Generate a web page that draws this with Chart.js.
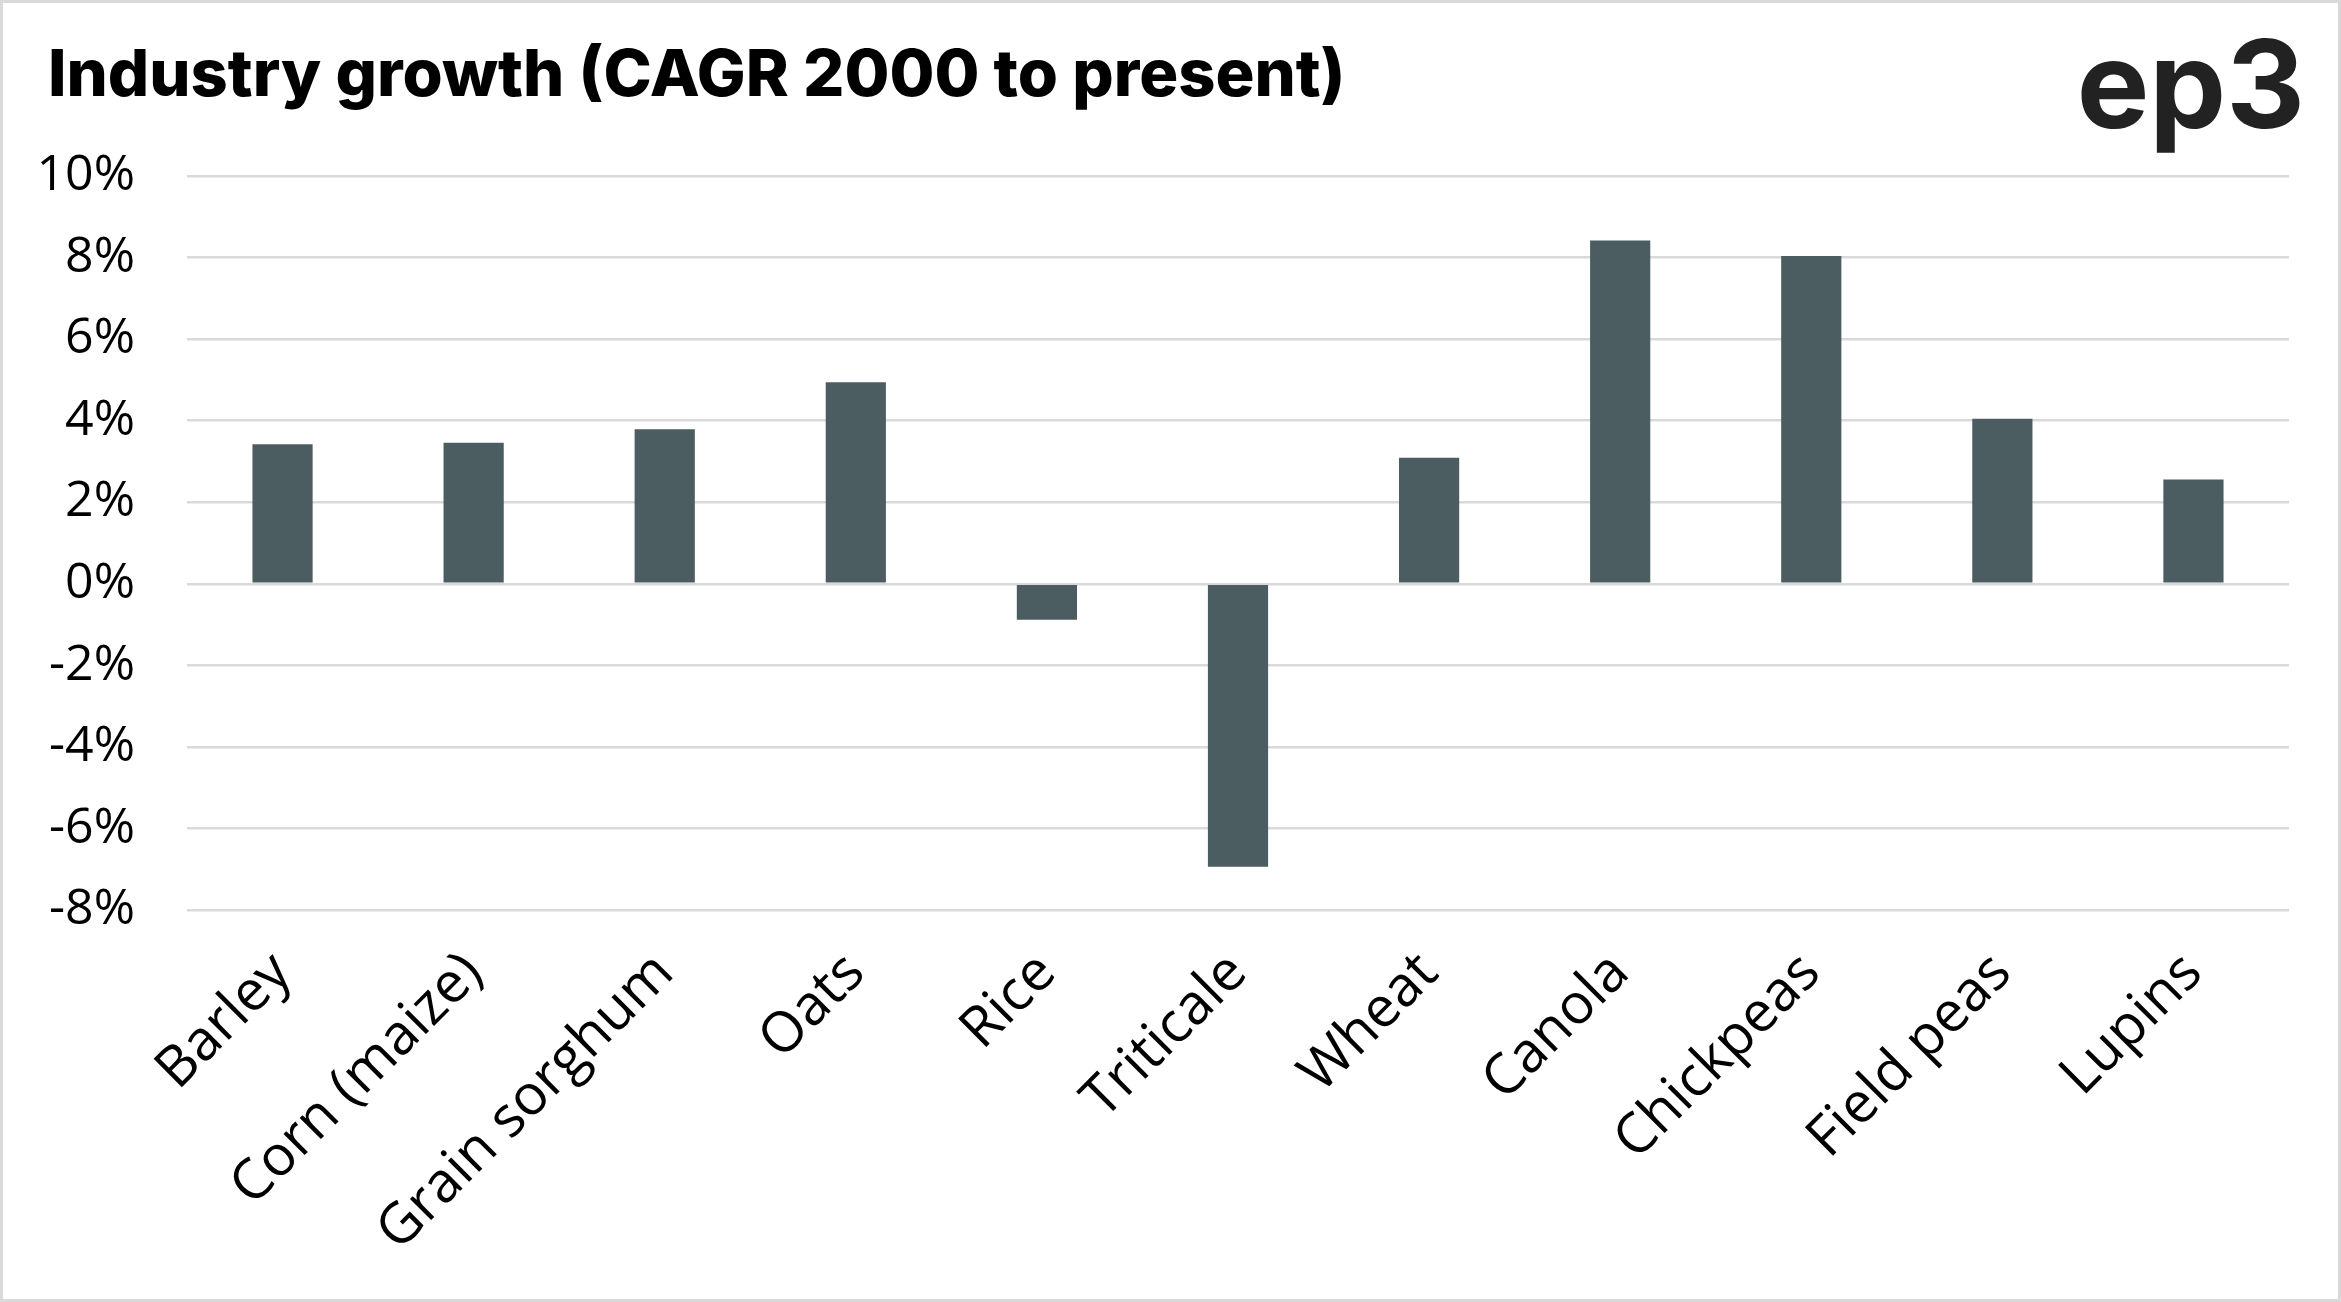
<!DOCTYPE html>
<html>
<head>
<meta charset="utf-8">
<script src="https://cdn.jsdelivr.net/npm/chart.js@4.4.1/dist/chart.umd.min.js"></script>
<style>
  html, body { margin: 0; padding: 0; background: #fff; }
  #wrap { position: relative; width: 2341px; height: 1302px; }
  #frame { position: absolute; left: 0; top: 0; width: 2341px; height: 1302px; box-sizing: border-box; border: 3px solid #d9d9d9; pointer-events: none; }
</style>
</head>
<body>
<div id="wrap">
  <canvas id="chart" width="2341" height="1302"></canvas>
  <div id="frame"></div>
</div>
<script>
const categories = ["Barley", "Corn (maize)", "Grain sorghum", "Oats", "Rice", "Triticale", "Wheat", "Canola", "Chickpeas", "Field peas", "Lupins"];
const growth = [3.42, 3.46, 3.79, 4.94, -0.88, -6.94, 3.09, 8.42, 8.04, 4.05, 2.56];
const yMin = -8;
const yMax = 10;
const yStep = 2;
const titleText = "Industry growth (CAGR 2000 to present)";
const logoText = "ep3";

const yFont = { family: "'Open Sans', sans-serif", size: 50, weight: "400" };
const xFont = { family: "'Open Sans', sans-serif", size: 56, weight: "400" };

// title + logo drawn on the canvas
const headerPlugin = {
  id: "header",
  afterDraw(chart) {
    const ctx = chart.ctx;
    ctx.save();
    ctx.fillStyle = "#000";
    ctx.textBaseline = "alphabetic";
    ctx.textAlign = "left";
    ctx.font = "800 65px Inter, sans-serif";
    ctx.fillText(titleText, 48, 96);
    ctx.fillStyle = "#222";
    ctx.textAlign = "right";
    ctx.font = "700 122px Inter, sans-serif";
    ctx.fillText(logoText, 2305, 128);
    ctx.restore();
  }
};

const myChart = document.getElementById("chart");
new Chart(myChart, {
  type: "bar",
  data: {
    labels: categories,
    datasets: [{
      label: "CAGR",
      data: growth,
      backgroundColor: "#4b5d60",
      barPercentage: 0.315,
      categoryPercentage: 1
    }]
  },
  options: {
    responsive: false,
    animation: false,
    devicePixelRatio: 1,
    layout: { padding: { left: 0, right: 52, top: 176, bottom: 0 } },
    plugins: {
      legend: { display: false },
      tooltip: { enabled: false }
    },
    scales: {
      x: {
        grid: { display: false, drawTicks: false },
        border: { display: false },
        ticks: { color: "#000", font: xFont, maxRotation: 45, minRotation: 45, padding: 30, autoSkip: false },
        afterFit: (s) => { s.height = 392; }
      },
      y: {
        min: yMin,
        max: yMax,
        grid: { color: "#d9d9d9", lineWidth: 2.5, drawTicks: false },
        border: { display: false },
        ticks: {
          stepSize: yStep,
          color: "#000",
          font: yFont,
          padding: 52,
          callback: (v) => v + "%"
        },
        afterFit: (s) => { s.width = 187; }
      }
    }
  },
  plugins: [headerPlugin]
});
</script>
</body>
</html>
